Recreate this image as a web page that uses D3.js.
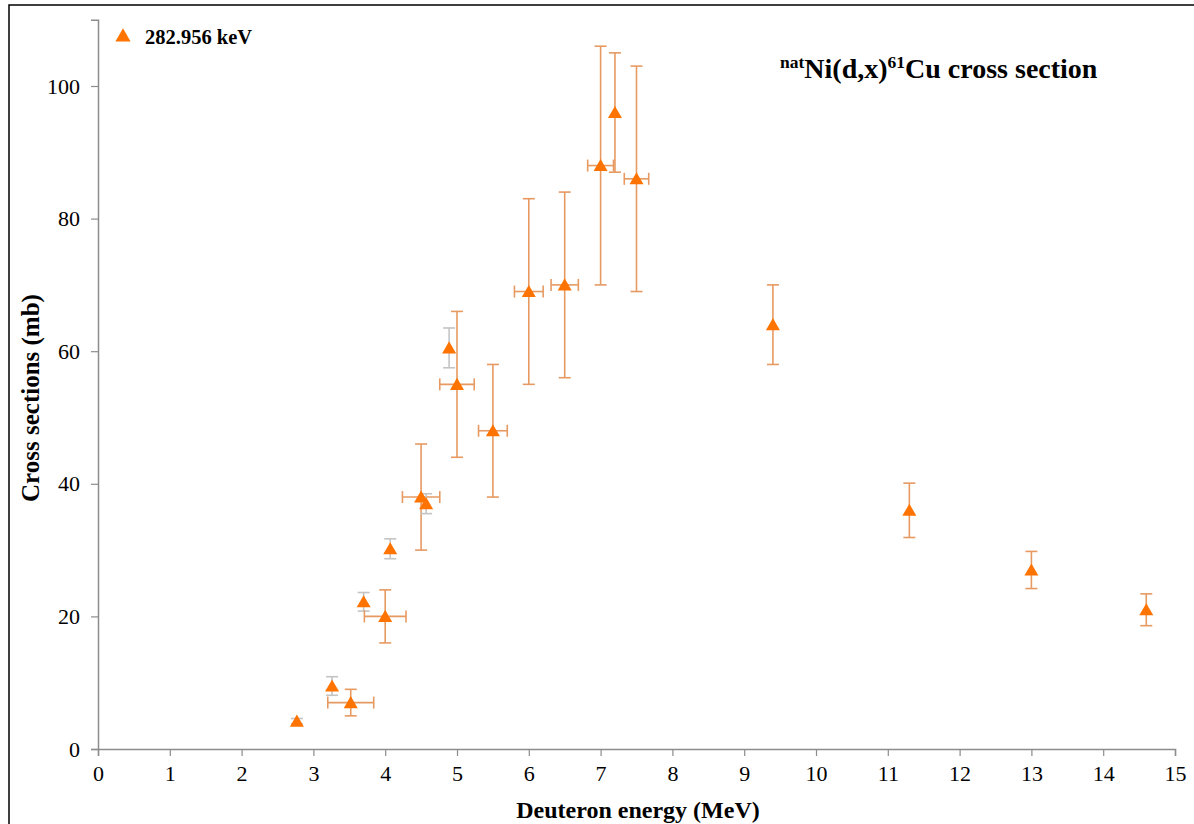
<!DOCTYPE html>
<html>
<head>
<meta charset="utf-8">
<script src="https://cdn.jsdelivr.net/npm/d3@7"></script>
<style>
  html, body { margin: 0; padding: 0; background: #fff; }
  svg { display: block; }
  text { font-family: "Liberation Serif", "Times New Roman", serif; }
</style>
</head>
<body>
<svg id="chart" width="1194" height="824"></svg>
<script>
// Data
const energies = [2.77, 3.26, 3.52, 3.7, 4.0, 4.07, 4.5, 4.57, 4.89, 5.0, 5.5, 6.0, 6.5, 7.0, 7.2, 7.5, 9.4, 11.3, 13.0, 14.6];
const crossSections = [4.2, 9.5, 7.0, 22.2, 20.0, 30.2, 38.0, 37.0, 60.5, 55.0, 48.0, 69.0, 70.0, 88.0, 96.0, 86.0, 64.0, 36.0, 27.0, 21.0];
const yErrors = [0.4, 1.4, 2.0, 1.4, 4.0, 1.5, 8.0, 1.5, 3.0, 11.0, 10.0, 14.0, 14.0, 18.0, 9.0, 17.0, 6.0, 4.1, 2.8, 2.4];
const xErrors = [0, 0, 0.32, 0, 0.29, 0, 0.26, 0, 0, 0.24, 0.2, 0.2, 0.19, 0.18, 0, 0.17, 0, 0, 0, 0];
const errorGroup = ["grey", "grey", "orange", "grey", "orange", "grey", "orange", "grey", "grey", "orange", "orange", "orange", "orange", "orange", "orange", "orange", "orange", "orange", "orange", "orange"];
const xTicks = [0, 1, 2, 3, 4, 5, 6, 7, 8, 9, 10, 11, 12, 13, 14, 15];
const yTicks = [0, 20, 40, 60, 80, 100];
const seriesName = "282.956 keV";

const points = energies.map((e, i) => ({ x: e, y: crossSections[i], ey: yErrors[i], ex: xErrors[i], g: errorGroup[i] }));

const svg = d3.select("#chart");

const x = d3.scaleLinear().domain([0, 15]).range([98, 1175]);
const y = d3.scaleLinear().domain([0, 110]).range([749, 19.7]);

// Outer frame
svg.append("rect").attr("x", 9).attr("y", 5).attr("width", 1200).attr("height", 840)
  .attr("fill", "none").attr("stroke", "#000").attr("stroke-width", 1.5);

const axisColor = "#8c8c8c";

// X axis
const gx = svg.append("g").attr("transform", `translate(0,${y(0)})`)
  .call(d3.axisBottom(x).tickValues(xTicks).tickSize(7).tickPadding(9).tickFormat(d3.format("d")));
gx.select(".domain").attr("stroke", axisColor).attr("stroke-width", 1.5);
gx.selectAll(".tick line").attr("stroke", axisColor).attr("stroke-width", 1.2);
gx.selectAll(".tick text").attr("fill", "#000").style("font-size", "22px").style("font-family", "Liberation Serif, serif");

// Y axis
const gy = svg.append("g").attr("transform", `translate(${x(0)},0)`)
  .call(d3.axisLeft(y).tickValues(yTicks).tickSize(7).tickPadding(11).tickFormat(d3.format("d")));
gy.select(".domain").attr("stroke", axisColor).attr("stroke-width", 1.5);
gy.selectAll(".tick line").attr("stroke", axisColor).attr("stroke-width", 1.2);
gy.selectAll(".tick text").attr("fill", "#000").style("font-size", "22px").style("font-family", "Liberation Serif, serif");

// Axis titles
svg.append("text").attr("x", 638).attr("y", 818).attr("text-anchor", "middle")
  .style("font-size", "24px").style("font-weight", "bold").text("Deuteron energy (MeV)");
svg.append("text").attr("transform", "translate(39,398) rotate(-90)").attr("text-anchor", "middle")
  .style("font-size", "25px").style("font-weight", "bold").text("Cross sections (mb)");

// Chart title with superscripts
const title = svg.append("text").attr("x", 780).attr("y", 78)
  .style("font-size", "28px").style("font-weight", "bold");
title.append("tspan").attr("baseline-shift", "super").style("font-size", "17.5px").text("nat");
title.append("tspan").attr("baseline-shift", "0").text("Ni(d,x)");
title.append("tspan").attr("baseline-shift", "super").style("font-size", "17.5px").text("61");
title.append("tspan").attr("baseline-shift", "0").text("Cu cross section");

const errColor = { orange: "#e69a62", grey: "#c4c4c4" };
const capHalf = 6;
const eg = svg.append("g").attr("fill", "none").attr("stroke-width", 1.6);

points.forEach(p => {
  const c = errColor[p.g];
  const g = eg.append("g").attr("stroke", c);
  g.append("line").attr("x1", x(p.x)).attr("x2", x(p.x)).attr("y1", y(p.y - p.ey)).attr("y2", y(p.y + p.ey));
  g.append("line").attr("x1", x(p.x) - capHalf).attr("x2", x(p.x) + capHalf).attr("y1", y(p.y + p.ey)).attr("y2", y(p.y + p.ey));
  g.append("line").attr("x1", x(p.x) - capHalf).attr("x2", x(p.x) + capHalf).attr("y1", y(p.y - p.ey)).attr("y2", y(p.y - p.ey));
  if (p.ex > 0) {
    g.append("line").attr("x1", x(p.x - p.ex)).attr("x2", x(p.x + p.ex)).attr("y1", y(p.y)).attr("y2", y(p.y));
    g.append("line").attr("x1", x(p.x - p.ex)).attr("x2", x(p.x - p.ex)).attr("y1", y(p.y) - capHalf).attr("y2", y(p.y) + capHalf);
    g.append("line").attr("x1", x(p.x + p.ex)).attr("x2", x(p.x + p.ex)).attr("y1", y(p.y) - capHalf).attr("y2", y(p.y) + capHalf);
  }
});

const markerColor = "#ff7300";
const tri = d3.symbol().type(d3.symbolTriangle).size(85);
svg.append("g").selectAll("path").data(points).join("path")
  .attr("d", tri)
  .attr("transform", d => `translate(${x(d.x)},${y(d.y) + 1.5})`)
  .attr("fill", markerColor);

// Legend
svg.append("path").attr("d", d3.symbol().type(d3.symbolTriangle).size(100)).attr("transform", "translate(123,37)").attr("fill", markerColor);
svg.append("text").attr("x", 145).attr("y", 44).style("font-size", "20.5px").style("font-weight", "bold").text(seriesName);
</script>
</body>
</html>
